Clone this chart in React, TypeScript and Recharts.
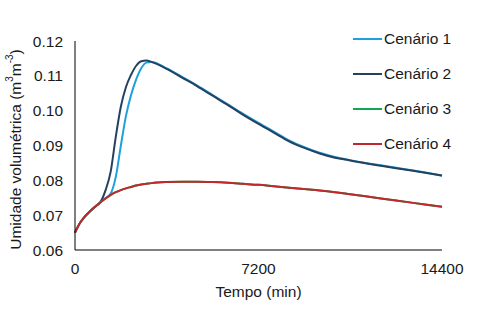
import { Line, LineChart, XAxis, YAxis } from 'recharts'

const tempo = [
  0, 200, 400, 600, 800, 1000, 1200, 1400, 1600, 1800, 2000, 2200, 2400, 2600, 2800, 3000, 3600, 4200,
  4800, 5400, 6000, 6600, 7200, 7800, 8400, 9000, 9600, 10200, 10800, 11400, 12000, 12600, 13200,
  13800, 14400,
]

const cenario1 = [
  0.065, 0.0678, 0.0697, 0.0712, 0.0725, 0.0737, 0.0749, 0.0762, 0.081, 0.09, 0.0985, 0.1045,
  0.109, 0.1122, 0.1138, 0.114, 0.1121, 0.1097, 0.1072, 0.1045, 0.1018, 0.0991, 0.0965, 0.094,
  0.0915, 0.0895, 0.0879, 0.0867, 0.0858, 0.085, 0.0843, 0.0836, 0.0829, 0.0822, 0.0813,
]

const cenario2 = [
  0.065, 0.0678, 0.0697, 0.0712, 0.0725, 0.0738, 0.0772, 0.0825, 0.0925, 0.1012, 0.1068, 0.1103,
  0.1129, 0.1142, 0.1144, 0.114, 0.112, 0.1095, 0.107, 0.1043, 0.1016, 0.0988, 0.0962, 0.0937,
  0.0912, 0.0893, 0.0877, 0.0865, 0.0857, 0.0849, 0.0842, 0.0835, 0.0828, 0.0821, 0.0814,
]

const cenario3 = [
  0.065, 0.0678, 0.0697, 0.0712, 0.0725, 0.0737, 0.0748, 0.0758, 0.0766, 0.0772, 0.0777, 0.0781,
  0.0785, 0.0788, 0.079, 0.0792, 0.0795, 0.0796, 0.0796, 0.0795, 0.0793, 0.079, 0.0787, 0.0783,
  0.0779, 0.0775, 0.0771, 0.0766, 0.076, 0.0754, 0.0748, 0.0742, 0.0736, 0.073, 0.0724,
]

const cenario4 = [
  0.065, 0.0678, 0.0697, 0.0712, 0.0725, 0.0737, 0.0748, 0.0758, 0.0766, 0.0772, 0.0777, 0.0781,
  0.0785, 0.0788, 0.079, 0.0792, 0.0795, 0.0796, 0.0796, 0.0795, 0.0793, 0.079, 0.0787, 0.0783,
  0.0779, 0.0775, 0.0771, 0.0766, 0.076, 0.0754, 0.0748, 0.0742, 0.0736, 0.073, 0.0724,
]

const xTicks = [0, 7200, 14400]
const yTicks = [0.06, 0.07, 0.08, 0.09, 0.1, 0.11, 0.12]

const series = [
  { key: 'c1', name: 'Cenário 1', color: '#1fa0dc', values: cenario1 },
  { key: 'c2', name: 'Cenário 2', color: '#24415f', values: cenario2 },
  { key: 'c3', name: 'Cenário 3', color: '#12a552', values: cenario3 },
  { key: 'c4', name: 'Cenário 4', color: '#c0282d', values: cenario4 },
]

const data = tempo.map((t, i) => {
  const row: Record<string, number> = { t }
  series.forEach((s) => {
    row[s.key] = s.values[i]
  })
  return row
})

const font = 'Arial, "Liberation Sans", sans-serif'

function YLabel(props: any) {
  const vb = props.viewBox || {}
  const cy = vb.y + vb.height / 2 + 4
  return (
    <text
      x={15}
      y={cy}
      transform={`rotate(-90, 15, ${cy})`}
      textAnchor='middle'
      dominantBaseline='central'
      fontFamily={font}
      fontSize={15.5}
      fill='#1a1a1a'
    >
      Umidade volumétrica  (m
      <tspan baselineShift='super' fontSize={10}>3</tspan>
      m
      <tspan baselineShift='super' fontSize={10}>-3</tspan>)
    </text>
  )
}

function LegendBox() {
  return (
    <div style={{ position: 'absolute', left: 353, top: 21, fontFamily: font, fontSize: 15.5, color: '#1a1a1a' }}>
      {series.map((s) => (
        <div key={s.key} style={{ display: 'flex', alignItems: 'center', height: 35 }}>
          <span style={{ width: 29, height: 2, background: s.color, marginRight: 2 }} />
          <span>{s.name}</span>
        </div>
      ))}
    </div>
  )
}

export default function App() {
  return (
    <div style={{ position: 'absolute', left: 0, top: 0, width: 492, height: 321, background: '#fff' }}>
      <LineChart width={492} height={321} data={data} margin={{ top: 41, right: 50, left: 0, bottom: 0 }}>
        <XAxis
          dataKey='t'
          type='number'
          domain={[0, 14400]}
          ticks={xTicks}
          interval={0}
          tickLine={false}
          tickSize={6}
          tickMargin={7}
          height={71}
          stroke='#000'
          tick={{ fill: '#1a1a1a', fontSize: 15.5, fontFamily: font }}
          label={{ value: 'Tempo (min)', position: 'insideTop', offset: 36, fill: '#1a1a1a', fontSize: 15.5, fontFamily: font }}
        />
        <YAxis
          type='number'
          domain={[0.06, 0.12]}
          ticks={yTicks}
          interval={0}
          tickFormatter={(v) => v.toFixed(2)}
          tickLine={false}
          tickSize={6}
          tickMargin={6}
          width={75}
          stroke='#000'
          tick={{ fill: '#1a1a1a', fontSize: 15.5, fontFamily: font }}
          label={<YLabel />}
        />
        {series.map((s) => (
          <Line
            key={s.key}
            dataKey={s.key}
            name={s.name}
            stroke={s.color}
            strokeWidth={2}
            dot={false}
            type='monotone'
            isAnimationActive={false}
          />
        ))}
      </LineChart>
      <LegendBox />
    </div>
  )
}
